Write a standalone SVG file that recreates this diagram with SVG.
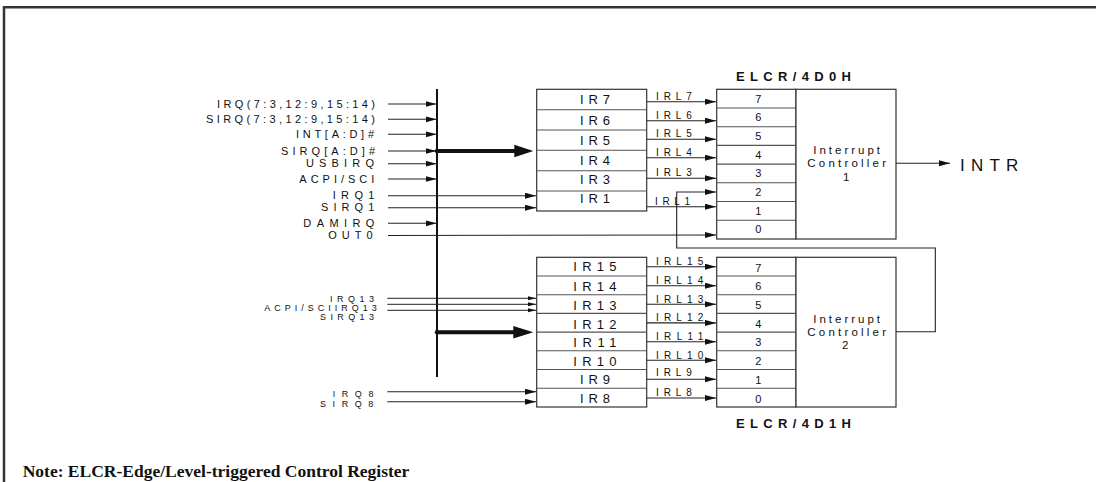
<svg xmlns="http://www.w3.org/2000/svg" width="1096" height="482" viewBox="0 0 1096 482">
<style>
text{font-family:"Liberation Sans",Arial,sans-serif;fill:#111}
.in{font-size:11px}
.sm{font-size:9px}
.ir{font-size:13px}
.irl{font-size:10px}
.dg{font-size:11px;text-anchor:middle}
.ct{font-size:11.5px}
.bt{font-size:13px;font-weight:bold}
.note{font-family:"Liberation Serif","Times New Roman",serif;font-weight:bold;font-size:17.5px}
.box{fill:#fff;stroke:#333;stroke-width:1.2}
.row{stroke:#555;stroke-width:1.1;fill:none}
.ar{stroke:#222;stroke-width:1.1;fill:none;marker-end:url(#ah)}
.as{stroke:#222;stroke-width:1;fill:none;marker-end:url(#ahs)}
</style>
<defs>
<marker id="ah" markerUnits="userSpaceOnUse" markerWidth="12" markerHeight="8" refX="11" refY="3" orient="auto"><path d="M0,0 L11,3 L0,6 z" fill="#111"/></marker>
<marker id="ahs" markerUnits="userSpaceOnUse" markerWidth="9" markerHeight="6" refX="8" refY="2" orient="auto"><path d="M0,0 L8,2 L0,4 z" fill="#111"/></marker>
</defs>

<g id="frame">
<path d="M4,482 V7.3 H1096" fill="none" stroke="#333" stroke-width="2.5"/>
</g>

<g id="input-labels">
<text class="in" x="217" y="107.6" textLength="158" lengthAdjust="spacing">IRQ(7:3,12:9,15:14)</text>
<text class="in" x="206" y="122.9" textLength="169" lengthAdjust="spacing">SIRQ(7:3,12:9,15:14)</text>
<text class="in" x="296" y="137.9" textLength="78" lengthAdjust="spacing">INT[A:D]#</text>
<text class="in" x="281" y="154.6" textLength="94" lengthAdjust="spacing">SIRQ[A:D]#</text>
<text class="in" x="306" y="167.3" textLength="68" lengthAdjust="spacing">USBIRQ</text>
<text class="in" x="299.3" y="182.6" textLength="75" lengthAdjust="spacing">ACPI/SCI</text>
<text class="in" x="332.7" y="199.3" textLength="41.7" lengthAdjust="spacing">IRQ1</text>
<text class="in" x="321" y="211.3" textLength="53.3" lengthAdjust="spacing">SIRQ1</text>
<text class="in" x="303.3" y="226.9" textLength="71" lengthAdjust="spacing">DAMIRQ</text>
<text class="in" x="328.3" y="239.3" textLength="44.3" lengthAdjust="spacing">OUT0</text>
<text class="sm" x="330" y="302.1" textLength="44" lengthAdjust="spacing">IRQ13</text>
<text class="sm" x="264.3" y="311" textLength="112.4" lengthAdjust="spacing">ACPI/SCIIRQ13</text>
<text class="sm" x="320" y="319.6" textLength="54" lengthAdjust="spacing">SIRQ13</text>
<text class="sm" x="332.7" y="396.7" textLength="40.7" lengthAdjust="spacing">IRQ8</text>
<text class="sm" x="320" y="406.7" textLength="53.3" lengthAdjust="spacing">SIRQ8</text>
</g>

<g id="ir-block-1">
<rect class="box" x="536.7" y="89.3" width="110" height="121.7"/>
<path class="row" d="M536.7,109.7 H646.7 M536.7,130 H646.7 M536.7,150.3 H646.7 M536.7,170.7 H646.7 M536.7,191 H646.7"/>
<text class="ir" x="580" y="104.3" textLength="30" lengthAdjust="spacing">IR7</text>
<text class="ir" x="580" y="124.6" textLength="30" lengthAdjust="spacing">IR6</text>
<text class="ir" x="580" y="144.6" textLength="30" lengthAdjust="spacing">IR5</text>
<text class="ir" x="580" y="164.6" textLength="30" lengthAdjust="spacing">IR4</text>
<text class="ir" x="580" y="183.6" textLength="30" lengthAdjust="spacing">IR3</text>
<text class="ir" x="580" y="203" textLength="30" lengthAdjust="spacing">IR1</text>
</g>

<g id="ir-block-2">
<rect class="box" x="536.7" y="257.3" width="110" height="149.7"/>
<path class="row" d="M536.7,276 H646.7 M536.7,294.7 H646.7 M536.7,313.4 H646.7 M536.7,332.1 H646.7 M536.7,350.8 H646.7 M536.7,369.5 H646.7 M536.7,388.2 H646.7"/>
<text class="ir" x="573.3" y="271.3" textLength="43.3" lengthAdjust="spacing">IR15</text>
<text class="ir" x="573.3" y="291" textLength="43.3" lengthAdjust="spacing">IR14</text>
<text class="ir" x="573.3" y="309.6" textLength="43.3" lengthAdjust="spacing">IR13</text>
<text class="ir" x="573.3" y="328.6" textLength="43.3" lengthAdjust="spacing">IR12</text>
<text class="ir" x="573.3" y="347" textLength="43.3" lengthAdjust="spacing">IR11</text>
<text class="ir" x="573.3" y="366.3" textLength="43.3" lengthAdjust="spacing">IR10</text>
<text class="ir" x="580" y="383.6" textLength="30" lengthAdjust="spacing">IR9</text>
<text class="ir" x="580" y="403" textLength="30" lengthAdjust="spacing">IR8</text>
</g>

<g id="elcr-1">
<text class="bt" x="736" y="80.7" textLength="115" lengthAdjust="spacing">ELCR/4D0H</text>
<rect class="box" x="716.7" y="89.3" width="79.3" height="149.7"/>
<path class="row" d="M716.7,108 H796 M716.7,126.7 H796 M716.7,145.4 H796 M716.7,164.1 H796 M716.7,182.8 H796 M716.7,201.5 H796 M716.7,220.2 H796"/>
<text class="dg" x="758.3" y="102.5">7</text>
<text class="dg" x="758.3" y="121.2">6</text>
<text class="dg" x="758.3" y="139.9">5</text>
<text class="dg" x="758.3" y="158.6">4</text>
<text class="dg" x="758.3" y="177.3">3</text>
<text class="dg" x="758.3" y="196">2</text>
<text class="dg" x="758.3" y="214.7">1</text>
<text class="dg" x="758.3" y="233.4">0</text>
</g>

<g id="controller-1">
<rect class="box" x="796" y="89.3" width="100" height="149.7"/>
<text class="ct" x="813.3" y="154.3" textLength="66.7" lengthAdjust="spacing">Interrupt</text>
<text class="ct" x="807.3" y="167.3" textLength="78.7" lengthAdjust="spacing">Controller</text>
<text class="ct" x="843" y="180.7">1</text>
</g>

<g id="elcr-2">
<rect class="box" x="716.7" y="257.3" width="79.3" height="149.7"/>
<path class="row" d="M716.7,276 H796 M716.7,294.7 H796 M716.7,313.4 H796 M716.7,332.1 H796 M716.7,350.8 H796 M716.7,369.5 H796 M716.7,388.2 H796"/>
<text class="dg" x="758.3" y="271.6">7</text>
<text class="dg" x="758.3" y="290.3">6</text>
<text class="dg" x="758.3" y="309">5</text>
<text class="dg" x="758.3" y="327.7">4</text>
<text class="dg" x="758.3" y="346.4">3</text>
<text class="dg" x="758.3" y="365.1">2</text>
<text class="dg" x="758.3" y="383.8">1</text>
<text class="dg" x="758.3" y="402.5">0</text>
<text class="bt" x="736" y="427.7" textLength="115" lengthAdjust="spacing">ELCR/4D1H</text>
</g>

<g id="controller-2">
<rect class="box" x="796" y="257.3" width="100" height="149.7"/>
<text class="ct" x="813.3" y="323.3" textLength="66.7" lengthAdjust="spacing">Interrupt</text>
<text class="ct" x="807.3" y="336" textLength="78.7" lengthAdjust="spacing">Controller</text>
<text class="ct" x="842" y="349">2</text>
</g>

<g id="intr">
<text x="960" y="171" style="font-size:17px" textLength="58.3" lengthAdjust="spacing">INTR</text>
</g>

<g id="connectors">
<line x1="437" y1="89" x2="437" y2="377" stroke="#111" stroke-width="2"/>
<line class="ar" x1="388" y1="104" x2="436.5" y2="104"/>
<line class="ar" x1="388" y1="119.3" x2="436.5" y2="119.3"/>
<line class="ar" x1="388" y1="134.3" x2="436.5" y2="134.3"/>
<line class="ar" x1="388" y1="151" x2="436.5" y2="151"/>
<line class="ar" x1="388" y1="163.7" x2="436.5" y2="163.7"/>
<line class="ar" x1="388" y1="179" x2="436.5" y2="179"/>
<line class="ar" x1="388" y1="195.7" x2="536" y2="195.7"/>
<line class="ar" x1="388" y1="207.7" x2="536" y2="207.7"/>
<line class="ar" x1="388" y1="223.3" x2="436.5" y2="223.3"/>
<line class="ar" x1="388" y1="235.5" x2="716" y2="235"/>
<line class="as" x1="387.3" y1="298.3" x2="536" y2="298.3"/>
<line class="as" x1="387.3" y1="304.3" x2="536" y2="304.3"/>
<line class="as" x1="387.3" y1="310.3" x2="536" y2="310.3"/>
<line class="ar" x1="387.3" y1="391.7" x2="536" y2="391.7"/>
<line class="ar" x1="387.3" y1="401.7" x2="536" y2="401.7"/>
<circle cx="437" cy="151" r="2.2" fill="#111"/>
<path d="M437,149 H514.3 V144.8 L533.3,151 L514.3,157.2 V153 H437 z" fill="#111"/>
<circle cx="437" cy="332.3" r="2.2" fill="#111"/>
<path d="M437,330.3 H513.3 V326.1 L533.3,332.3 L513.3,338.5 V334.3 H437 z" fill="#111"/>
<line class="ar" x1="646.7" y1="101.7" x2="716" y2="101.7"/>
<line class="ar" x1="646.7" y1="120.7" x2="716" y2="120.7"/>
<line class="ar" x1="646.7" y1="139.3" x2="716" y2="139.3"/>
<line class="ar" x1="646.7" y1="157.7" x2="716" y2="157.7"/>
<line class="ar" x1="646.7" y1="178.3" x2="716" y2="178.3"/>
<line class="ar" x1="646.7" y1="206.7" x2="716" y2="206.7"/>
<path class="ar" d="M896,331.7 H935.3 V248 H676.7 V192 H716"/>
<line class="ar" x1="896" y1="163.3" x2="950" y2="163.3"/>
<line class="ar" x1="646.7" y1="266.7" x2="716" y2="266.7"/>
<line class="ar" x1="646.7" y1="285.7" x2="716" y2="285.7"/>
<line class="ar" x1="646.7" y1="304.3" x2="716" y2="304.3"/>
<line class="ar" x1="646.7" y1="322.9" x2="716" y2="322.9"/>
<line class="ar" x1="646.7" y1="341.7" x2="716" y2="341.7"/>
<line class="ar" x1="646.7" y1="360.3" x2="716" y2="360.3"/>
<line class="ar" x1="646.7" y1="379.3" x2="716" y2="379.3"/>
<line class="ar" x1="646.7" y1="398" x2="716" y2="398"/>
<text class="irl" x="656" y="99.5" textLength="35.7" lengthAdjust="spacing">IRL7</text>
<text class="irl" x="656" y="118.5" textLength="35.7" lengthAdjust="spacing">IRL6</text>
<text class="irl" x="656" y="137.2" textLength="35.7" lengthAdjust="spacing">IRL5</text>
<text class="irl" x="656" y="155.6" textLength="35.7" lengthAdjust="spacing">IRL4</text>
<text class="irl" x="656" y="176" textLength="35.7" lengthAdjust="spacing">IRL3</text>
<text class="irl" x="655" y="205" textLength="35" lengthAdjust="spacing">IRL1</text>
<text class="irl" x="656" y="265" textLength="47.3" lengthAdjust="spacing">IRL15</text>
<text class="irl" x="656" y="284" textLength="47.3" lengthAdjust="spacing">IRL14</text>
<text class="irl" x="656" y="302.6" textLength="47.3" lengthAdjust="spacing">IRL13</text>
<text class="irl" x="656" y="321.2" textLength="47.3" lengthAdjust="spacing">IRL12</text>
<text class="irl" x="656" y="340" textLength="47.3" lengthAdjust="spacing">IRL11</text>
<text class="irl" x="656" y="358.6" textLength="47.3" lengthAdjust="spacing">IRL10</text>
<text class="irl" x="656" y="375.5" textLength="35.7" lengthAdjust="spacing">IRL9</text>
<text class="irl" x="656" y="396.2" textLength="35.7" lengthAdjust="spacing">IRL8</text>
</g>

<g id="note">
<text class="note" x="22.7" y="476.7">Note: ELCR-Edge/Level-triggered Control Register</text>
</g>
</svg>
